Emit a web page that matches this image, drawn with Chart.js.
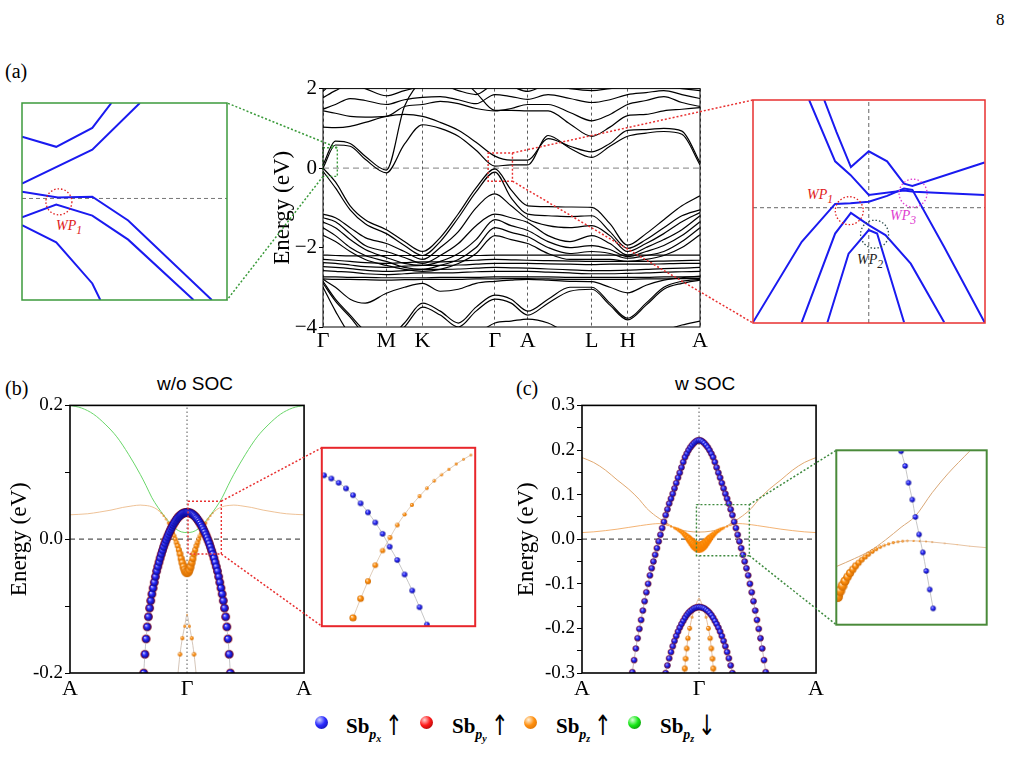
<!DOCTYPE html>
<html>
<head>
<meta charset="utf-8">
<script src="https://cdn.jsdelivr.net/npm/chart.js@4.4.0/dist/chart.umd.min.js"></script>
<style>
  body { margin: 0; width: 1011px; height: 783px; background: #fff; position: relative; overflow: hidden;
         font-family: "Liberation Serif", Tinos, "Nimbus Roman", "Times New Roman", "DejaVu Serif", serif; color: #000; }
  canvas { position: absolute; }
  .lbl { position: absolute; white-space: nowrap; line-height: 1; }
  .sans { font-family: "Liberation Sans", Arimo, Arial, sans-serif; }
  .wp { font-style: italic; font-size: 14px; }
  .ball { position: absolute; width: 13px; height: 13px; border-radius: 50%; }
  .leg { position: absolute; font-size: 21px; font-weight: bold; line-height: 1; }
  .leg sub { font-size: 14px; font-style: italic; vertical-align: -6px; }
  .leg sub sub { font-size: 10px; vertical-align: -3px; }
  .leg .ar { font-weight: normal; font-size: 28px; display: inline-block; transform: scaleX(0.75); margin-left: 1px;
             vertical-align: -2px; font-family: "DejaVu Sans", sans-serif; }
  #links { position: absolute; left: 0; top: 0; pointer-events: none; }
</style>
</head>
<body>

<div class="lbl" style="left:996px;top:11px;font-size:17px">8</div>
<div class="lbl" style="left:5px;top:61px;font-size:20px">(a)</div>
<div class="lbl" style="left:5px;top:378px;font-size:20px">(b)</div>
<div class="lbl" style="left:516px;top:378px;font-size:20px">(c)</div>
<div class="lbl sans" style="left:157px;top:374px;font-size:19px">w/o SOC</div>
<div class="lbl sans" style="left:675px;top:374px;font-size:19px">w SOC</div>

<div class="lbl wp" style="left:56px;top:219px;color:#e02020">WP<sub>1</sub></div>
<div class="lbl wp" style="left:807px;top:188px;color:#e02020">WP<sub>1</sub></div>
<div class="lbl wp" style="left:857px;top:253px;color:#222">WP<sub>2</sub></div>
<div class="lbl wp" style="left:890px;top:209px;color:#e040d0">WP<sub>3</sub></div>

<canvas id="cMain" style="left:262px;top:74px" width="448" height="280"></canvas>
<canvas id="cLeft" style="left:21px;top:102px" width="207" height="199"></canvas>
<canvas id="cRight" style="left:752px;top:99px" width="234" height="225"></canvas>
<canvas id="cB" style="left:0px;top:392px" width="315" height="310"></canvas>
<canvas id="cBz" style="left:317px;top:443px" width="163" height="188"></canvas>
<canvas id="cC" style="left:510px;top:392px" width="317" height="310"></canvas>
<canvas id="cCz" style="left:830px;top:444px" width="163" height="187"></canvas>

<div class="ball" style="left:315px;top:716px;background:radial-gradient(circle at 35% 30%,#d0d4ff,#2b2bff 45%,#0a0a90)"></div>
<div class="leg" style="left:346px;top:712px">Sb<sub>p<sub>x</sub></sub><span class="ar">↑</span></div>
<div class="ball" style="left:420px;top:716px;background:radial-gradient(circle at 35% 30%,#ffd0d0,#ff1a1a 45%,#8a0000)"></div>
<div class="leg" style="left:452px;top:712px">Sb<sub>p<sub>y</sub></sub><span class="ar">↑</span></div>
<div class="ball" style="left:524px;top:716px;background:radial-gradient(circle at 35% 30%,#fff2dc,#ff9010 45%,#d06a00)"></div>
<div class="leg" style="left:556px;top:712px">Sb<sub>p<sub>z</sub></sub><span class="ar">↑</span></div>
<div class="ball" style="left:628px;top:716px;background:radial-gradient(circle at 35% 30%,#d8ffd8,#18e818 45%,#007000)"></div>
<div class="leg" style="left:660px;top:712px">Sb<sub>p<sub>z</sub></sub><span class="ar">↓</span></div>

<svg id="links" width="1011" height="783"></svg>

<script>
// ---------- (a) full band structure ----------
const kSym = [0, 0.168, 0.264, 0.456, 0.543, 0.713, 0.808, 1.0];
const kLabels = ['Γ', 'M', 'K', 'Γ', 'A', 'L', 'H', 'A'];
const kPath = [0, .033, .072, .112, .168, .216, .264, .311, .359, .406, .456, .499, .543, .597, .655, .713, .761, .808, .857, .904, .952, 1.0];

const condBands = [
  [0.00, 0.58, 0.55, 0.22, -0.12, 0.60, 1.09, 1.00, 0.80, 0.45, 0.05, 0.08, 0.08, 0.82, 0.50, 0.27, 0.55, 0.80, 0.88, 0.92, 0.85, 0.08],
  [0.08, 0.68, 0.62, 0.30, -0.05, 1.55, 2.20, 2.40, 2.30, 1.90, 1.45, 1.45, 1.44, 1.44, 1.11, 0.80, 1.03, 1.32, 1.35, 1.44, 1.48, 1.52],
  [1.03, 1.02, 1.05, 1.15, 1.30, 1.35, 1.30, 1.15, 0.95, 0.65, 0.30, 0.20, 0.20, 0.74, 0.55, 0.41, 0.62, 0.95, 0.97, 1.00, 0.93, 0.14],
  [1.44, 1.38, 1.30, 1.28, 1.30, 1.55, 1.60, 1.68, 1.62, 1.50, 1.44, 1.50, 1.60, 1.60, 1.40, 1.19, 1.35, 1.60, 1.70, 1.80, 1.65, 1.55],
  [1.48, 1.60, 1.75, 1.70, 1.60, 1.72, 1.78, 1.80, 1.72, 1.62, 1.85, 1.80, 1.73, 1.85, 1.75, 1.65, 1.72, 1.85, 1.90, 1.95, 1.85, 1.75],
  [1.77, 1.95, 2.10, 2.00, 1.82, 1.95, 2.05, 2.10, 1.95, 1.85, 2.10, 2.05, 1.93, 2.10, 2.00, 1.95, 2.00, 2.05, 2.10, 2.05, 2.00, 1.95],
  [1.93, 2.20, 2.30, 2.20, 2.05, 2.20, 2.30, 2.30, 2.20, 2.10, 2.30, 2.20, 2.05, 2.20, 2.10, 2.05, 2.10, 2.15, 2.20, 2.15, 2.10, 2.05]
];
const valBands = [
  [0.00, -0.35, -0.95, -1.30, -1.55, -1.85, -2.10, -1.75, -1.15, -0.50, -0.02, -0.55, -0.95, -0.97, -0.98, -0.99, -1.40, -1.94, -1.65, -1.30, -0.95, -0.70],
  [-0.08, -0.50, -1.05, -1.40, -1.65, -1.95, -2.20, -1.85, -1.25, -0.60, -0.10, -0.75, -1.16, -1.20, -1.22, -1.20, -1.60, -2.02, -1.80, -1.50, -1.20, -1.05],
  [-1.16, -1.25, -1.50, -1.75, -1.90, -2.10, -2.30, -2.00, -1.60, -1.00, -0.65, -0.95, -1.28, -1.45, -1.50, -1.45, -1.70, -2.10, -1.90, -1.65, -1.35, -1.12],
  [-1.25, -1.35, -1.65, -1.95, -2.10, -2.25, -2.40, -2.20, -1.90, -1.45, -1.16, -1.25, -1.37, -1.70, -1.85, -1.70, -1.90, -2.19, -2.00, -1.80, -1.55, -1.20],
  [-1.36, -1.50, -1.80, -2.05, -2.25, -2.40, -2.45, -2.35, -2.15, -1.80, -1.30, -1.45, -1.57, -1.85, -2.00, -1.95, -2.05, -2.23, -2.10, -1.95, -1.70, -1.35],
  [-1.50, -1.70, -2.00, -2.20, -2.35, -2.50, -2.55, -2.45, -2.30, -2.00, -1.50, -1.62, -1.73, -2.00, -2.15, -2.10, -2.15, -2.27, -2.20, -2.10, -1.85, -1.50],
  [-1.69, -1.85, -2.10, -2.30, -2.45, -2.55, -2.60, -2.55, -2.40, -2.15, -1.70, -1.80, -1.90, -2.15, -2.30, -2.30, -2.30, -2.35, -2.30, -2.20, -2.00, -1.68]
];
const flatBands = [
  [-2.19, -2.20, -2.21, -2.21, -2.20, -2.20, -2.20, -2.20, -2.20, -2.20, -2.19, -2.19, -2.19, -2.19, -2.19, -2.19, -2.19, -2.19, -2.19, -2.19, -2.19, -2.19],
  [-2.30, -2.32, -2.35, -2.38, -2.40, -2.38, -2.36, -2.36, -2.34, -2.32, -2.30, -2.31, -2.32, -2.33, -2.34, -2.35, -2.35, -2.35, -2.35, -2.34, -2.33, -2.32],
  [-2.38, -2.40, -2.44, -2.48, -2.50, -2.47, -2.45, -2.45, -2.44, -2.42, -2.40, -2.40, -2.40, -2.41, -2.42, -2.43, -2.42, -2.42, -2.42, -2.41, -2.40, -2.40],
  [-2.48, -2.50, -2.53, -2.57, -2.60, -2.58, -2.55, -2.55, -2.54, -2.52, -2.50, -2.51, -2.52, -2.54, -2.56, -2.58, -2.58, -2.57, -2.55, -2.53, -2.52, -2.50],
  [-2.58, -2.60, -2.62, -2.66, -2.68, -2.66, -2.64, -2.64, -2.63, -2.61, -2.60, -2.60, -2.60, -2.62, -2.64, -2.66, -2.66, -2.65, -2.64, -2.62, -2.61, -2.60],
  [-2.74, -2.74, -2.75, -2.75, -2.76, -2.76, -2.76, -2.75, -2.75, -2.75, -2.74, -2.74, -2.74, -2.74, -2.75, -2.75, -2.75, -2.75, -2.75, -2.74, -2.74, -2.74],
  [-2.79, -2.80, -2.80, -2.81, -2.82, -2.81, -2.80, -2.80, -2.80, -2.79, -2.79, -2.78, -2.78, -2.79, -2.80, -2.80, -2.80, -2.80, -2.79, -2.79, -2.78, -2.78]
];
const deepBands = [
  [-2.80, -3.00, -3.30, -3.40, -3.15, -3.00, -2.90, -3.10, -3.05, -2.90, -2.85, -2.82, -2.80, -2.82, -2.85, -2.86, -3.00, -3.14, -2.95, -2.82, -2.76, -2.72],
  [-2.85, -3.30, -3.70, -4.10, -4.30, -3.90, -3.40, -3.60, -3.90, -3.50, -3.20, -3.30, -3.60, -3.30, -3.00, -3.00, -3.40, -3.78, -3.40, -3.00, -2.85, -2.80],
  [-2.90, -3.35, -3.75, -4.20, -4.40, -4.00, -3.50, -3.70, -4.00, -3.60, -3.30, -3.40, -3.70, -3.40, -3.10, -3.05, -3.45, -3.82, -3.45, -3.05, -2.90, -2.82],
  [-3.00, -3.60, -4.20, -4.50, -4.50, -4.50, -4.20, -4.50, -4.50, -4.20, -3.90, -3.85, -3.80, -3.90, -4.20, -4.40, -4.50, -4.50, -4.30, -4.10, -3.95, -3.85]
];
// zoom windows (k, E in eV) marked in the main panel
const aGreenBox = { k0: 0, k1: 0.038, e0: -0.21, e1: 0.51 };
const aRedBox = { k0: 0.438, k1: 0.5025, e0: -0.33, e1: 0.38 };

// left inset of (a): k in % of window, E in meV
const gZoomBands = [
  { k: [0, 16.7, 34.3, 43.6], e: [213, 178, 243, 329] },
  { k: [0, 34.3, 57.5], e: [51, 168, 329] },
  { k: [0, 17.5, 34.3, 51.8, 92.6], e: [23, 3.5, 6, -76, -350] },
  { k: [0, 16.7, 34.3, 51.8, 83.7], e: [-65, -21, -59, -142, -350] },
  { k: [0, 16.7, 34.3, 38.2], e: [-92, -151, -293, -350] }
];
const gZoomWeyl = [{ k: 18, e: -11.6, color: '#e02020' }];

// right inset of (a): k and E in % of window, Γ at 0
const rZoomBands = [
  { k: [-25.7, -14.5, -7.9, 0, 15.2, 19.5, 49.9], e: [48.3, 20.8, 14.7, 5.7, 7.7, 7.2, 5.7] },
  { k: [-19.2, -13.9, -7.7, 0, 7.9, 15.2, 18.8, 49.9], e: [48.3, 33.9, 18.2, 25.3, 20.8, 10.8, 9.8, 20.3] },
  { k: [-49.9, -28.9, -14.5, -7.9, 0, 7.9, 15.2, 18.8, 32.5, 49.9], e: [-51.4, -15.3, 1.7, 2.0, 2.7, 5.3, 8.6, 8.0, -17.6, -51.4] },
  { k: [-28.9, -14.5, -7.7, 0, 7.2, 18.1, 32.5], e: [-51.4, -11.6, -2.3, -7.8, -12.3, -25.1, -51.4] },
  { k: [-17.8, -8.7, 0, 3.6, 15.2], e: [-51.4, -20.6, -10.0, -11.6, -51.4] }
];
const rZoomWeyl = [
  { k: -8.4, e: -1.35, color: '#e02020' },
  { k: 2.5, e: -11.9, color: '#2f4f4f' },
  { k: 19.1, e: 6.5, color: '#e040d0' }
];

// ---------- (b) w/o SOC, Γ -> A half path (mirrored) ----------
const bBlueK = [0, .01, .02, .03, .04, .05, .06, .07, .08, .09, .10, .11, .12, .13, .14, .15, .16, .17, .18, .19, .20,
                .21, .22, .23, .24, .25, .26, .27, .28, .29, .30, .31, .32, .33, .34, .35, .36, .37, .38];
const bBlueE = [0.0400, 0.0399, 0.0396, 0.0390, 0.0382, 0.0370, 0.0355, 0.0338, 0.0318, 0.0295, 0.0270, 0.0243, 0.0213,
                0.0180, 0.0145, 0.0108, 0.0068, 0.0026, -0.0018, -0.0065, -0.0115, -0.0168, -0.0224, -0.0283, -0.0345,
                -0.0410, -0.0478, -0.0560, -0.0645, -0.0730, -0.0820, -0.0920, -0.1030, -0.1160, -0.1310, -0.1490,
                -0.1720, -0.2000, -0.2320];
const bOrangeK = [0, .01, .02, .03, .04, .05, .06, .07, .08, .09, .10, .11, .12, .13, .14, .15, .16, .18, .20, .22, .24,
                  .26, .28, .32, .36, .40, .46, .55, .65, .75, .85, 1.0];
const bOrangeE = [-0.050, -0.049, -0.046, -0.041, -0.035, -0.029, -0.022, -0.016, -0.010, -0.005, 0.000, 0.005, 0.0095,
                  0.0135, 0.017, 0.0205, 0.024, 0.030, 0.035, 0.039, 0.0425, 0.045, 0.047, 0.0495, 0.0505, 0.051, 0.050,
                  0.0475, 0.0435, 0.0405, 0.038, 0.0365];
const bOrangeR = [4.5, 4.4, 4.2, 4.0, 3.8, 3.5, 3.3, 3.0, 2.8, 2.6, 2.4, 2.2, 2.0, 1.8, 1.7, 1.5, 1.4, 1.1, 0.9, 0.7,
                  0.5, 0.3, 0, 0, 0, 0, 0, 0, 0, 0, 0, 0];
const bGreenK = [0, .05, .1, .15, .2, .25, .3, .35, .4, .5, .6, .7, .8, .9, 1.0];
const bGreenE = [0.010, 0.011, 0.016, 0.025, 0.036, 0.048, 0.062, 0.080, 0.097, 0.127, 0.153, 0.172, 0.187, 0.196, 0.200];
const bDeepK = [0, .02, .04, .06, .08];
const bDeepE = [-0.113, -0.130, -0.148, -0.172, -0.205];
const bDeepR = [0.8, 1.5, 2.0, 2.2, 2.4];
const bBox = { k0: 0.0085, k1: 0.293, e0: -0.0222, e1: 0.0568 };

// (b) inset, read from the enlarged window
const bZoomBlueK = [0.0126, 0.0262, 0.0398, 0.0534, 0.0664, 0.0805, 0.0941, 0.1077, 0.1213, 0.1343, 0.1485, 0.1620, 0.1762, 0.1898, 0.2034];
const bZoomBlueE = [0.0446, 0.0432, 0.0413, 0.0388, 0.0358, 0.0322, 0.0282, 0.0237, 0.0187, 0.0130, 0.0071, 0.0007, -0.0064, -0.0138, -0.0215];
const bZoomOrK = [0.0664, 0.0805, 0.0941, 0.1077, 0.1213, 0.1349, 0.1485, 0.1620, 0.1756, 0.1898, 0.2034, 0.2170, 0.2306, 0.2442, 0.2578, 0.2714, 0.2850];
const bZoomOrE = [-0.0185, -0.0100, -0.0023, 0.0048, 0.0113, 0.0170, 0.0226, 0.0273, 0.0315, 0.0354, 0.0389, 0.0422, 0.0449, 0.0473, 0.0496, 0.0517, 0.0536];
const bZoomOrR = [3.6, 3.3, 3.0, 2.8, 2.6, 2.4, 2.3, 2.1, 2.0, 1.9, 1.8, 1.7, 1.6, 1.5, 1.4, 1.3, 1.2];

// ---------- (c) w SOC ----------
const cBlueK = [0, .015, .03, .045, .06, .075, .09, .105, .12, .135, .15, .165, .18, .195, .21, .225, .24, .255, .27, .285,
                .30, .315, .33, .345, .36, .375, .39, .405, .42, .435, .45, .465, .48, .495, .51, .525, .54, .555, .57, .585];
const cBlueE = [0.222, 0.2215, 0.219, 0.2155, 0.211, 0.206, 0.1995, 0.192, 0.184, 0.173, 0.161, 0.149, 0.138, 0.126, 0.114,
                0.102, 0.091, 0.080, 0.067, 0.054, 0.039, 0.025, 0.010, -0.005, -0.020, -0.035, -0.050, -0.065, -0.081,
                -0.100, -0.119, -0.139, -0.160, -0.181, -0.201, -0.222, -0.245, -0.271, -0.298, -0.330];
const cBlue2K = [0, .015, .03, .045, .06, .075, .09, .105, .12, .135, .15, .165, .18, .195, .21, .225, .24, .255, .27, .285, .30];
const cBlue2E = [-0.152, -0.1523, -0.1535, -0.155, -0.158, -0.161, -0.165, -0.170, -0.176, -0.183, -0.190, -0.198, -0.207,
                 -0.217, -0.228, -0.240, -0.253, -0.267, -0.283, -0.300, -0.318];
const cOrangeK = [0, .015, .03, .045, .06, .075, .09, .105, .12, .135, .15, .165, .18, .195, .21, .24, .27, .30, .34, .40,
                  .50, .60, .70, .80, .90, 1.0];
const cOrangeE = [-0.018, -0.0172, -0.0148, -0.0112, -0.0070, -0.0025, 0.0020, 0.0062, 0.0100, 0.0135, 0.0165, 0.0192,
                  0.0215, 0.0235, 0.0252, 0.0285, 0.0315, 0.0340, 0.0350, 0.0340, 0.0305, 0.0265, 0.0225, 0.0192, 0.0165, 0.0148];
const cOrangeR = [5.5, 5.3, 5.0, 4.6, 4.2, 3.8, 3.4, 3.0, 2.7, 2.4, 2.1, 1.9, 1.7, 1.5, 1.3, 1.0, 0.7, 0.4, 0, 0, 0, 0, 0, 0, 0, 0];
const cUpperK = [0, .1, .2, .3, .37, .45, .51, .6, .7, .8, .9, 1.0];
const cUpperE = [0.016, 0.018, 0.025, 0.040, 0.052, 0.070, 0.089, 0.112, 0.133, 0.155, 0.172, 0.183];
const cDeepK = [0, .03, .06, .08, .095, .105, .115, .122, .13];
const cDeepE = [-0.133, -0.150, -0.175, -0.200, -0.222, -0.245, -0.268, -0.290, -0.310];
const cDeepR = [0.6, 0.9, 1.3, 2.4, 2.6, 2.7, 2.8, 2.9, 3.0];
const cBox = { k0: -0.022, k1: 0.43, e0: -0.037, e1: 0.0776 };

// (c) inset
const cZoomBlueK = [0.1727, 0.1849, 0.1951, 0.2063, 0.2157, 0.2269, 0.2381, 0.2484, 0.2587, 0.2690];
const cZoomBlueE = [0.0770, 0.0673, 0.0563, 0.0452, 0.0338, 0.0223, 0.0105, -0.0017, -0.0139, -0.0263];
const cZoomOrK = [-0.0183, -0.0108, -0.0033, 0.0042, 0.0117, 0.0192, 0.0276, 0.0360, 0.0454, 0.0548, 0.0650, 0.0753,
                  0.0866, 0.0978, 0.1100, 0.1221, 0.1352, 0.1493, 0.1633, 0.1774, 0.1914, 0.2101, 0.2288, 0.2476,
                  0.2663, 0.3037, 0.3412, 0.3786, 0.4301];
const cZoomOrE = [-0.0185, -0.0147, -0.0114, -0.0083, -0.0056, -0.0031, -0.0007, 0.0016, 0.0037, 0.0057, 0.0076, 0.0093,
                  0.0111, 0.0126, 0.0140, 0.0152, 0.0161, 0.0169, 0.0175, 0.0179, 0.0181, 0.0181, 0.0179, 0.0177,
                  0.0173, 0.0165, 0.0156, 0.0146, 0.0136];
const cZoomOrR = [5.5, 5.2, 4.9, 4.6, 4.3, 4.0, 3.7, 3.4, 3.1, 2.8, 2.6, 2.4, 2.2, 2.0, 1.8, 1.6, 1.5, 1.4, 1.3, 1.2,
                  1.1, 1.0, 0.9, 0.8, 0.7, 0.6, 0.5, 0.4, 0.3];
const cZoomThinK = [-0.022, 0.0323, 0.079, 0.126, 0.1727, 0.2148, 0.266, 0.313, 0.3786];
const cZoomThinE = [0.0012, 0.0064, 0.0115, 0.0187, 0.027, 0.0342, 0.0497, 0.0621, 0.077];

// --- Helpers ---
const SERIF = '"Liberation Serif", Tinos, "Nimbus Roman", "Times New Roman", "DejaVu Serif", serif';
Chart.defaults.font.family = SERIF;
Chart.defaults.color = '#000';

const SHADES = {
  blue: ['#d0d4ff', '#2b2bff', '#0a0a90'],
  red: ['#ffd0d0', '#ff1a1a', '#8a0000'],
  orange: ['#fff2dc', '#ff9010', '#d06a00'],
  amber: ['#ffb050', '#ff8a00', '#f47c00']
};
const sphereCache = {};
function sphere(color, r) {
  const key = color + r.toFixed(1);
  if (sphereCache[key]) return sphereCache[key];
  const s = Math.ceil(r * 2 + 2);
  const cv = document.createElement('canvas');
  cv.width = cv.height = s;
  const g = cv.getContext('2d');
  const c = s / 2;
  const grad = g.createRadialGradient(c - r * 0.35, c - r * 0.4, r * 0.05, c, c, r);
  grad.addColorStop(0, SHADES[color][0]);
  grad.addColorStop(0.45, SHADES[color][1]);
  grad.addColorStop(1, SHADES[color][2]);
  g.fillStyle = grad;
  g.beginPath();
  g.arc(c, c, r, 0, Math.PI * 2);
  g.fill();
  sphereCache[key] = cv;
  return cv;
}

function pts(ks, es, rs) {
  return ks.map((k, i) => ({ x: k, y: es[i], r: rs === undefined ? 0 : (typeof rs === 'number' ? rs : rs[i]) }));
}
function mirror(list) {
  const left = list.filter(p => p.x > 0).map(p => ({ x: -p.x, y: p.y, r: p.r })).reverse();
  return left.concat(list);
}
function curve(data, color, width, extra) {
  return Object.assign({ data, borderColor: color, borderWidth: width, pointRadius: 0, fill: false, tension: 0 }, extra || {});
}
function dots(data, ball, lineColor) {
  return {
    data,
    showLine: !!lineColor,
    borderColor: lineColor || 'rgba(0,0,0,0)',
    borderWidth: lineColor ? 0.8 : 0,
    cubicInterpolationMode: 'monotone',
    pointRadius: c => (c.raw ? c.raw.r : 0),
    pointStyle: c => (c.raw && c.raw.r > 0 ? sphere(ball, c.raw.r) : 'circle')
  };
}

// frame, dotted zoom windows and Weyl point circles
const decoPlugin = {
  id: 'deco',
  afterDatasetsDraw(chart, args, opts) {
    const { ctx, chartArea: a, scales: { x, y } } = chart;
    ctx.save();
    (opts.boxes || []).forEach(b => {
      ctx.strokeStyle = b.color;
      ctx.lineWidth = 1.4;
      ctx.setLineDash([2, 2]);
      const x0 = x.getPixelForValue(b.k0), x1 = x.getPixelForValue(b.k1);
      const y0 = y.getPixelForValue(b.e1), y1 = y.getPixelForValue(b.e0);
      ctx.strokeRect(x0, y0, x1 - x0, y1 - y0);
    });
    (opts.circles || []).forEach(c => {
      ctx.strokeStyle = c.color;
      ctx.lineWidth = 1.3;
      ctx.setLineDash([1.5, 2]);
      ctx.beginPath();
      ctx.arc(x.getPixelForValue(c.k), y.getPixelForValue(c.e), opts.radius || 13, 0, Math.PI * 2);
      ctx.stroke();
    });
    if (opts.frame) {
      ctx.setLineDash([]);
      ctx.strokeStyle = opts.frame.color;
      ctx.lineWidth = opts.frame.width;
      ctx.strokeRect(a.left, a.top, a.width, a.height);
    }
    ctx.restore();
  }
};
Chart.register(decoPlugin);

function baseOptions(padding, deco, scales) {
  return {
    responsive: false, animation: false, events: [],
    layout: { padding },
    plugins: { legend: { display: false }, tooltip: { enabled: false }, deco },
    scales
  };
}
function hiddenScales(xMin, xMax, yMin, yMax) {
  return {
    x: { type: 'linear', display: false, min: xMin, max: xMax },
    y: { type: 'linear', display: false, min: yMin, max: yMax }
  };
}

// ---------- (a) main ----------
const allBands = condBands.concat(valBands, flatBands, deepBands);
const mainSets = allBands.map(e => curve(kPath.map((k, i) => ({ x: k, y: e[i] })), '#000', 1.2, { cubicInterpolationMode: 'monotone' }));
mainSets.push(curve([{ x: kSym[0], y: 0 }, { x: kSym[kSym.length - 1], y: 0 }], '#9a9a9a', 1.3, { borderDash: [6, 4] }));

const chartMain = new Chart(document.getElementById('cMain'), {
  type: 'line',
  data: { datasets: mainSets },
  options: baseOptions({ top: 10, right: 10 }, { frame: { color: '#000', width: 1 }, boxes: [
      Object.assign({ color: '#3a9a3a' }, aGreenBox), Object.assign({ color: '#e83030' }, aRedBox)] }, {
    x: {
      type: 'linear', min: 0, max: 1,
      afterBuildTicks: s => { s.ticks = kSym.map(v => ({ value: v })); },
      afterFit: s => { s.height = 27; },
      ticks: { autoSkip: false, maxRotation: 0, padding: 1, font: { size: 22 }, callback: (v, i) => kLabels[i] },
      grid: { color: '#333', lineWidth: 0.8, drawTicks: false },
      border: { display: false, dash: [3, 3] }
    },
    y: {
      type: 'linear', min: -4, max: 2,
      afterFit: s => { s.width = 61; },
      ticks: { stepSize: 2, padding: 2, font: { size: 21 }, callback: v => (v < 0 ? '−' + Math.abs(v) : String(v)) },
      grid: { drawOnChartArea: false, tickLength: 4, color: '#000' },
      border: { display: false },
      title: { display: true, text: 'Energy (eV)', font: { size: 23 }, padding: { top: 7, bottom: 0 } }
    }
  })
});

// ---------- (a) insets ----------
const leftSets = gZoomBands.map(b => curve(pts(b.k, b.e), '#1a1af0', 2));
leftSets.push(curve([{ x: 0, y: 0 }, { x: 100, y: 0 }], '#777', 1, { borderDash: [4, 3] }));
const chartLeft = new Chart(document.getElementById('cLeft'), {
  type: 'line',
  data: { datasets: leftSets },
  options: baseOptions(1, { frame: { color: '#3c9a3c', width: 1.5 }, circles: gZoomWeyl, radius: 13 },
    hiddenScales(0, 100, -350, 329))
});

const rightSets = rZoomBands.map(b => curve(pts(b.k, b.e), '#1a1af0', 2));
rightSets.push(curve([{ x: -49.9, y: 0 }, { x: 50.1, y: 0 }], '#666', 1, { borderDash: [4, 3] }));
rightSets.push(curve([{ x: 0, y: -51.7 }, { x: 0, y: 48.3 }], '#666', 1, { borderDash: [4, 3] }));
const chartRight = new Chart(document.getElementById('cRight'), {
  type: 'line',
  data: { datasets: rightSets },
  options: baseOptions(1, { frame: { color: '#e83030', width: 1.5 }, circles: rZoomWeyl, radius: 14 },
    hiddenScales(-49.9, 50.1, -51.7, 48.3))
});

// ---------- (b) / (c) fat bands ----------
function fatScales(eMin, eMax, step, isLabelled, yWidth, titlePad) {
  return {
    x: {
      type: 'linear', min: -1, max: 1,
      afterBuildTicks: s => { s.ticks = [-1, 0, 1].map(v => ({ value: v })); },
      afterFit: s => { s.height = 29; },
      ticks: { autoSkip: false, maxRotation: 0, padding: 3, font: { size: 22 }, callback: (v, i) => ['A', 'Γ', 'A'][i] },
      grid: { display: false, drawTicks: false },
      border: { display: false }
    },
    y: {
      type: 'linear', min: eMin, max: eMax,
      afterFit: s => { s.width = yWidth; },
      ticks: { stepSize: step, autoSkip: false, padding: 2, font: { size: 19 },
               callback: v => (isLabelled(v) ? (Math.abs(v) < 1e-9 ? '0.0' : v.toFixed(1)) : '') },
      grid: { drawOnChartArea: false, tickLength: 5, color: '#000' },
      border: { display: false },
      title: { display: true, text: 'Energy (eV)', font: { size: 23 }, padding: { top: titlePad, bottom: 0 } }
    }
  };
}
function refLines(eMin, eMax) {
  return [
    curve([{ x: -1, y: 0 }, { x: 1, y: 0 }], '#555', 1.2, { borderDash: [5, 4] }),
    curve([{ x: 0, y: eMin }, { x: 0, y: eMax }], '#555', 1, { borderDash: [1.5, 2.5] })
  ];
}

const chartB = new Chart(document.getElementById('cB'), {
  type: 'line',
  data: { datasets: [
    dots(mirror(pts(bBlueK, bBlueE, 3.7)), 'blue', '#b8b8b8'),
    dots(mirror(pts(bBlueK, bBlueE, 4.3)), 'red', null),
    dots(mirror(pts(bOrangeK, bOrangeE, bOrangeR)), 'orange', '#eab27c'),
    dots(mirror(pts(bDeepK, bDeepE, bDeepR)), 'orange', '#c9b6a6'),
    curve(mirror(pts(bGreenK, bGreenE)), '#6ad66a', 1, { cubicInterpolationMode: 'monotone' })
  ].concat(refLines(-0.2, 0.2)) },
  options: baseOptions({ top: 10, right: 10 },
    { frame: { color: '#000', width: 1.6 }, boxes: [Object.assign({ color: '#e83030' }, bBox)] },
    fatScales(-0.2, 0.2, 0.1, v => Math.abs(v) < 1e-9 || Math.abs(Math.abs(v) - 0.2) < 1e-9, 70, 6))
});

const chartBz = new Chart(document.getElementById('cBz'), {
  type: 'line',
  data: { datasets: [
    dots(pts(bZoomBlueK, bZoomBlueE, 2.8), 'blue', '#b8b8b8'),
    dots(pts(bZoomOrK, bZoomOrE, bZoomOrR), 'orange', '#d8c0a8')
  ] },
  options: baseOptions(1, { frame: { color: '#e8262b', width: 2 } }, hiddenScales(bBox.k0, bBox.k1, bBox.e0, bBox.e1))
});

const chartC = new Chart(document.getElementById('cC'), {
  type: 'line',
  data: { datasets: [
    dots(mirror(pts(cBlueK, cBlueE, 2.8)), 'blue', '#c0a0a0'),
    dots(mirror(pts(cBlue2K, cBlue2E, 2.8)), 'blue', '#c0a0a0'),
    dots(mirror(pts(cBlueK, cBlueE, 3.1)), 'red', null),
    dots(mirror(pts(cBlue2K, cBlue2E, 3.1)), 'red', null),
    dots(mirror(pts(cOrangeK, cOrangeE, cOrangeR)), 'amber', '#f0a050'),
    dots(mirror(pts(cDeepK, cDeepE, cDeepR)), 'orange', '#e0b088'),
    curve(mirror(pts(cUpperK, cUpperE)), '#e0a870', 1, { cubicInterpolationMode: 'monotone' })
  ].concat(refLines(-0.3, 0.3)) },
  options: baseOptions({ top: 10, right: 10 },
    { frame: { color: '#000', width: 1.6 }, boxes: [Object.assign({ color: '#3f8a3f' }, cBox)] },
    fatScales(-0.3, 0.3, 0.05, v => Math.round(v * 100) % 10 === 0, 72, 3))
});

const chartCz = new Chart(document.getElementById('cCz'), {
  type: 'line',
  data: { datasets: [
    dots(pts(cZoomBlueK, cZoomBlueE, 2.7), 'blue', '#b8b8b8'),
    dots(pts(cZoomOrK, cZoomOrE, cZoomOrR), 'orange', '#e0b48c'),
    curve(pts(cZoomThinK, cZoomThinE), '#d9a878', 1, { cubicInterpolationMode: 'monotone' })
  ] },
  options: baseOptions(1, { frame: { color: '#4a8a3a', width: 2 } }, hiddenScales(cBox.k0, cBox.k1, cBox.e0, cBox.e1))
});

// ---------- dotted leader lines between windows and insets ----------
function pageXY(chart, k, e) {
  const cv = chart.canvas;
  return [cv.offsetLeft + chart.scales.x.getPixelForValue(k), cv.offsetTop + chart.scales.y.getPixelForValue(e)];
}
function corner(chart, right, top) {
  const s = chart.scales;
  return pageXY(chart, right ? s.x.max : s.x.min, top ? s.y.max : s.y.min);
}
const svg = document.getElementById('links');
function link(p, q, color) {
  const l = document.createElementNS('http://www.w3.org/2000/svg', 'line');
  l.setAttribute('x1', p[0]); l.setAttribute('y1', p[1]);
  l.setAttribute('x2', q[0]); l.setAttribute('y2', q[1]);
  l.setAttribute('stroke', color);
  l.setAttribute('stroke-width', '1.5');
  l.setAttribute('stroke-dasharray', '2 2');
  svg.appendChild(l);
}
link(pageXY(chartMain, aGreenBox.k1, aGreenBox.e1), corner(chartLeft, true, true), '#3a9a3a');
link(pageXY(chartMain, aGreenBox.k0, aGreenBox.e0), corner(chartLeft, true, false), '#3a9a3a');
link(pageXY(chartMain, aRedBox.k1, aRedBox.e1), corner(chartRight, false, true), '#e83030');
link(pageXY(chartMain, aRedBox.k1, aRedBox.e0), corner(chartRight, false, false), '#e83030');
link(pageXY(chartB, bBox.k1, bBox.e1), corner(chartBz, false, true), '#e83030');
link(pageXY(chartB, bBox.k1, bBox.e0), corner(chartBz, false, false), '#e83030');
link(pageXY(chartC, cBox.k1, cBox.e1), corner(chartCz, false, true), '#3f8a3f');
link(pageXY(chartC, cBox.k1, cBox.e0), corner(chartCz, false, false), '#3f8a3f');
</script>
</body>
</html>
